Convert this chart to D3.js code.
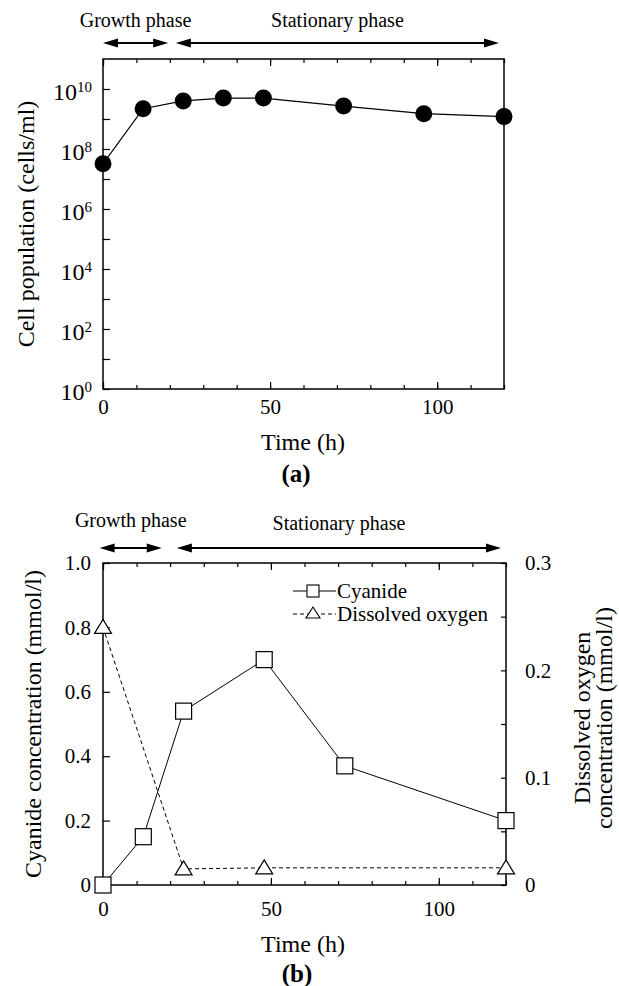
<!DOCTYPE html>
<html>
<head>
<meta charset="utf-8">
<script src="https://d3js.org/d3.v7.min.js"></script>
<style>
  body { margin: 0; background: #fff; }
  text { font-family: "Liberation Serif", "Times New Roman", serif; fill: #000; }
</style>
</head>
<body>
<script>
// ---- data ----
var timeCell = [0, 12, 24, 36, 48, 72, 96, 120];
var cellPop = [3.2e7, 2.2e9, 4.0e9, 5.0e9, 5.0e9, 2.7e9, 1.5e9, 1.2e9];

var timeCyanide = [0, 12, 24, 48, 72, 120];
var cyanide = [0, 0.15, 0.54, 0.70, 0.37, 0.20];

var timeOxygen = [0, 24, 48, 120];
var oxygen = [0.24, 0.015, 0.016, 0.016];

var phaseLabels = ["Growth phase", "Stationary phase"];
var phasesA = [[0, 19.5], [21.8, 118.5]];
var phasesB = [[-1, 17.5], [22, 118.5]];

var xMajor = [0, 50, 100];
var xMinor = d3.range(0, 121, 10);
var logMajor = [1, 1e2, 1e4, 1e6, 1e8, 1e10];
var logMinor = [1e1, 1e3, 1e5, 1e7, 1e9];
var cyTicks = [0, 0.2, 0.4, 0.6, 0.8, 1.0];
var oxMajor = [0, 0.1, 0.2, 0.3];
var oxMinor = [0.05, 0.15, 0.25];

var width = 619, height = 986;
var svg = d3.select("body").append("svg")
    .attr("width", width).attr("height", height)
    .style("background", "#fff");

function cleanAxis(g) {
  g.select(".domain").remove();
  g.selectAll(".tick line").attr("stroke", "#000").attr("stroke-width", 1.2);
  g.selectAll("text").style("font-family", "Liberation Serif").attr("fill", "#000");
}

function arrowHead(g, x, y, dir) {
  // dir = -1 points left, +1 points right
  g.append("path")
    .attr("d", "M" + x + "," + y + "L" + (x - dir * 15) + "," + (y - 4.5) +
               "L" + (x - dir * 15) + "," + (y + 4.5) + "Z")
    .attr("fill", "#000");
}

function phaseBar(x, ranges, yArrow, yText) {
  var g = svg.append("g");
  ranges.forEach(function(r, i) {
    var x0 = x(r[0]), x1 = x(r[1]);
    g.append("line").attr("x1", x0 + 4).attr("x2", x1 - 4)
      .attr("y1", yArrow).attr("y2", yArrow)
      .attr("stroke", "#000").attr("stroke-width", 2);
    arrowHead(g, x0, yArrow, -1);
    arrowHead(g, x1, yArrow, 1);
    g.append("text").attr("x", (x0 + x1) / 2).attr("y", yText[i])
      .attr("text-anchor", "middle").style("font-size", "20px")
      .text(phaseLabels[i]);
  });
}

// ================= panel (a) =================
var xa = d3.scaleLinear().domain([0, 120]).range([103, 504]);
var ya = d3.scaleLog().domain([1, 1e11]).range([389, 59]);

phaseBar(xa, phasesA, 43, [27, 27]);

// bottom axis
svg.append("g").attr("transform", "translate(0,389)")
  .call(d3.axisBottom(xa).tickValues(xMinor).tickSize(-4).tickFormat(""))
  .call(cleanAxis);
svg.append("g").attr("transform", "translate(0,389)")
  .call(d3.axisBottom(xa).tickValues(xMajor).tickSize(-7).tickPadding(10).tickFormat(d3.format("d")))
  .call(cleanAxis)
  .selectAll("text").style("font-size", "21px");
// top axis
svg.append("g").attr("transform", "translate(0,59)")
  .call(d3.axisTop(xa).tickValues(xMinor).tickSize(-4).tickFormat(""))
  .call(cleanAxis);
svg.append("g").attr("transform", "translate(0,59)")
  .call(d3.axisTop(xa).tickValues(xMajor).tickSize(-7).tickFormat(""))
  .call(cleanAxis);
// left axis
svg.append("g").attr("transform", "translate(103,0)")
  .call(d3.axisLeft(ya).tickValues(logMinor).tickSize(-7).tickFormat(""))
  .call(cleanAxis);
var la = svg.append("g").attr("transform", "translate(103,0)")
  .call(d3.axisLeft(ya).tickValues(logMajor).tickSize(-7).tickPadding(11))
  .call(cleanAxis);
la.selectAll(".tick text").each(function(d) {
  var t = d3.select(this).text(null).attr("dy", "0.42em").style("font-size", "24px");
  t.append("tspan").text("10");
  t.append("tspan").attr("dy", "-0.48em").style("font-size", "15px")
    .text(Math.round(Math.log10(d)));
});

svg.append("rect").attr("x", 103).attr("y", 59)
  .attr("width", 504 - 103).attr("height", 389 - 59)
  .attr("fill", "none").attr("stroke", "#000").attr("stroke-width", 1.5);

var cellLine = d3.line()
  .x(function(d, i) { return xa(timeCell[i]); })
  .y(function(d) { return ya(d); });
svg.append("path").datum(cellPop).attr("d", cellLine)
  .attr("fill", "none").attr("stroke", "#000").attr("stroke-width", 1.2);
svg.append("g").selectAll("circle").data(cellPop).enter().append("circle")
  .attr("cx", function(d, i) { return xa(timeCell[i]); })
  .attr("cy", function(d) { return ya(d); })
  .attr("r", 8.5).attr("fill", "#000");

svg.append("text").attr("x", 303).attr("y", 450).attr("text-anchor", "middle")
  .style("font-size", "24px").text("Time (h)");
svg.append("text").attr("x", 296).attr("y", 482).attr("text-anchor", "middle")
  .style("font-size", "25px").style("font-weight", "bold").text("(a)");
svg.append("text").attr("transform", "translate(26,224) rotate(-90)")
  .attr("text-anchor", "middle").attr("dy", "0.35em")
  .style("font-size", "24px").text("Cell population (cells/ml)");

// ================= panel (b) =================
var xb = d3.scaleLinear().domain([0, 120]).range([103, 506]);
var yb = d3.scaleLinear().domain([0, 1]).range([885, 563]);
var yo = d3.scaleLinear().domain([0, 0.3]).range([885, 563]);

phaseBar(xb, phasesB, 548, [527, 530]);

svg.append("g").attr("transform", "translate(0,885)")
  .call(d3.axisBottom(xb).tickValues(xMinor).tickSize(-4).tickFormat(""))
  .call(cleanAxis);
svg.append("g").attr("transform", "translate(0,885)")
  .call(d3.axisBottom(xb).tickValues(xMajor).tickSize(-7).tickPadding(16).tickFormat(d3.format("d")))
  .call(cleanAxis)
  .selectAll("text").style("font-size", "21px");
svg.append("g").attr("transform", "translate(0,563)")
  .call(d3.axisTop(xb).tickValues(xMinor).tickSize(-4).tickFormat(""))
  .call(cleanAxis);
svg.append("g").attr("transform", "translate(0,563)")
  .call(d3.axisTop(xb).tickValues(xMajor).tickSize(-7).tickFormat(""))
  .call(cleanAxis);
svg.append("g").attr("transform", "translate(103,0)")
  .call(d3.axisLeft(yb).tickValues(cyTicks).tickSize(-7).tickPadding(12)
    .tickFormat(function(d) { return d === 0 ? "0" : d3.format(".1f")(d); }))
  .call(cleanAxis)
  .selectAll("text").style("font-size", "21px");
svg.append("g").attr("transform", "translate(506,0)")
  .call(d3.axisRight(yo).tickValues(oxMinor).tickSize(-5).tickFormat(""))
  .call(cleanAxis);
svg.append("g").attr("transform", "translate(506,0)")
  .call(d3.axisRight(yo).tickValues(oxMajor).tickSize(-5).tickPadding(19)
    .tickFormat(function(d) { return d === 0 ? "0" : d3.format(".1f")(d); }))
  .call(cleanAxis)
  .selectAll("text").style("font-size", "21px");

svg.append("rect").attr("x", 103).attr("y", 563)
  .attr("width", 506 - 103).attr("height", 885 - 563)
  .attr("fill", "none").attr("stroke", "#000").attr("stroke-width", 1.5);

var oxLine = d3.line()
  .x(function(d, i) { return xb(timeOxygen[i]); })
  .y(function(d) { return yo(d); });
svg.append("path").datum(oxygen).attr("d", oxLine)
  .attr("fill", "none").attr("stroke", "#000").attr("stroke-width", 1)
  .attr("stroke-dasharray", "4,3");

var cyLine = d3.line()
  .x(function(d, i) { return xb(timeCyanide[i]); })
  .y(function(d) { return yb(d); });
svg.append("path").datum(cyanide).attr("d", cyLine)
  .attr("fill", "none").attr("stroke", "#000").attr("stroke-width", 1);

var tri = "M0,-8L8.5,6L-8.5,6Z";
svg.append("g").selectAll("path").data(oxygen).enter().append("path")
  .attr("transform", function(d, i) { return "translate(" + xb(timeOxygen[i]) + "," + yo(d) + ")"; })
  .attr("d", tri).attr("fill", "#fff").attr("stroke", "#000").attr("stroke-width", 1.2);

svg.append("g").selectAll("rect").data(cyanide).enter().append("rect")
  .attr("x", function(d, i) { return xb(timeCyanide[i]) - 8; })
  .attr("y", function(d) { return yb(d) - 8; })
  .attr("width", 16).attr("height", 16)
  .attr("fill", "#fff").attr("stroke", "#000").attr("stroke-width", 1.2);

// legend
var leg = svg.append("g");
leg.append("line").attr("x1", 293).attr("x2", 336).attr("y1", 591).attr("y2", 591)
  .attr("stroke", "#000").attr("stroke-width", 1);
leg.append("rect").attr("x", 307).attr("y", 585).attr("width", 12).attr("height", 12)
  .attr("fill", "#fff").attr("stroke", "#000").attr("stroke-width", 1.1);
leg.append("text").attr("x", 337).attr("y", 591).attr("dy", "0.35em")
  .style("font-size", "21px").text("Cyanide");
leg.append("line").attr("x1", 293).attr("x2", 336).attr("y1", 614).attr("y2", 614)
  .attr("stroke", "#000").attr("stroke-width", 1).attr("stroke-dasharray", "4,3");
leg.append("path").attr("transform", "translate(313,613)").attr("d", "M0,-6L7,5L-7,5Z")
  .attr("fill", "#fff").attr("stroke", "#000").attr("stroke-width", 1.1);
leg.append("text").attr("x", 337).attr("y", 614).attr("dy", "0.35em")
  .style("font-size", "21px").text("Dissolved oxygen");

svg.append("text").attr("x", 303).attr("y", 952).attr("text-anchor", "middle")
  .style("font-size", "24px").text("Time (h)");
svg.append("text").attr("x", 297).attr("y", 982).attr("text-anchor", "middle")
  .style("font-size", "25px").style("font-weight", "bold").text("(b)");
svg.append("text").attr("transform", "translate(33,724) rotate(-90)")
  .attr("text-anchor", "middle").attr("dy", "0.35em")
  .style("font-size", "24px").text("Cyanide concentration (mmol/l)");
svg.append("text").attr("transform", "translate(582,718) rotate(-90)")
  .attr("text-anchor", "middle").attr("dy", "0.35em")
  .style("font-size", "24px").text("Dissolved oxygen");
svg.append("text").attr("transform", "translate(604,718) rotate(-90)")
  .attr("text-anchor", "middle").attr("dy", "0.35em")
  .style("font-size", "24px").text("concentration (mmol/l)");
</script>
</body>
</html>
